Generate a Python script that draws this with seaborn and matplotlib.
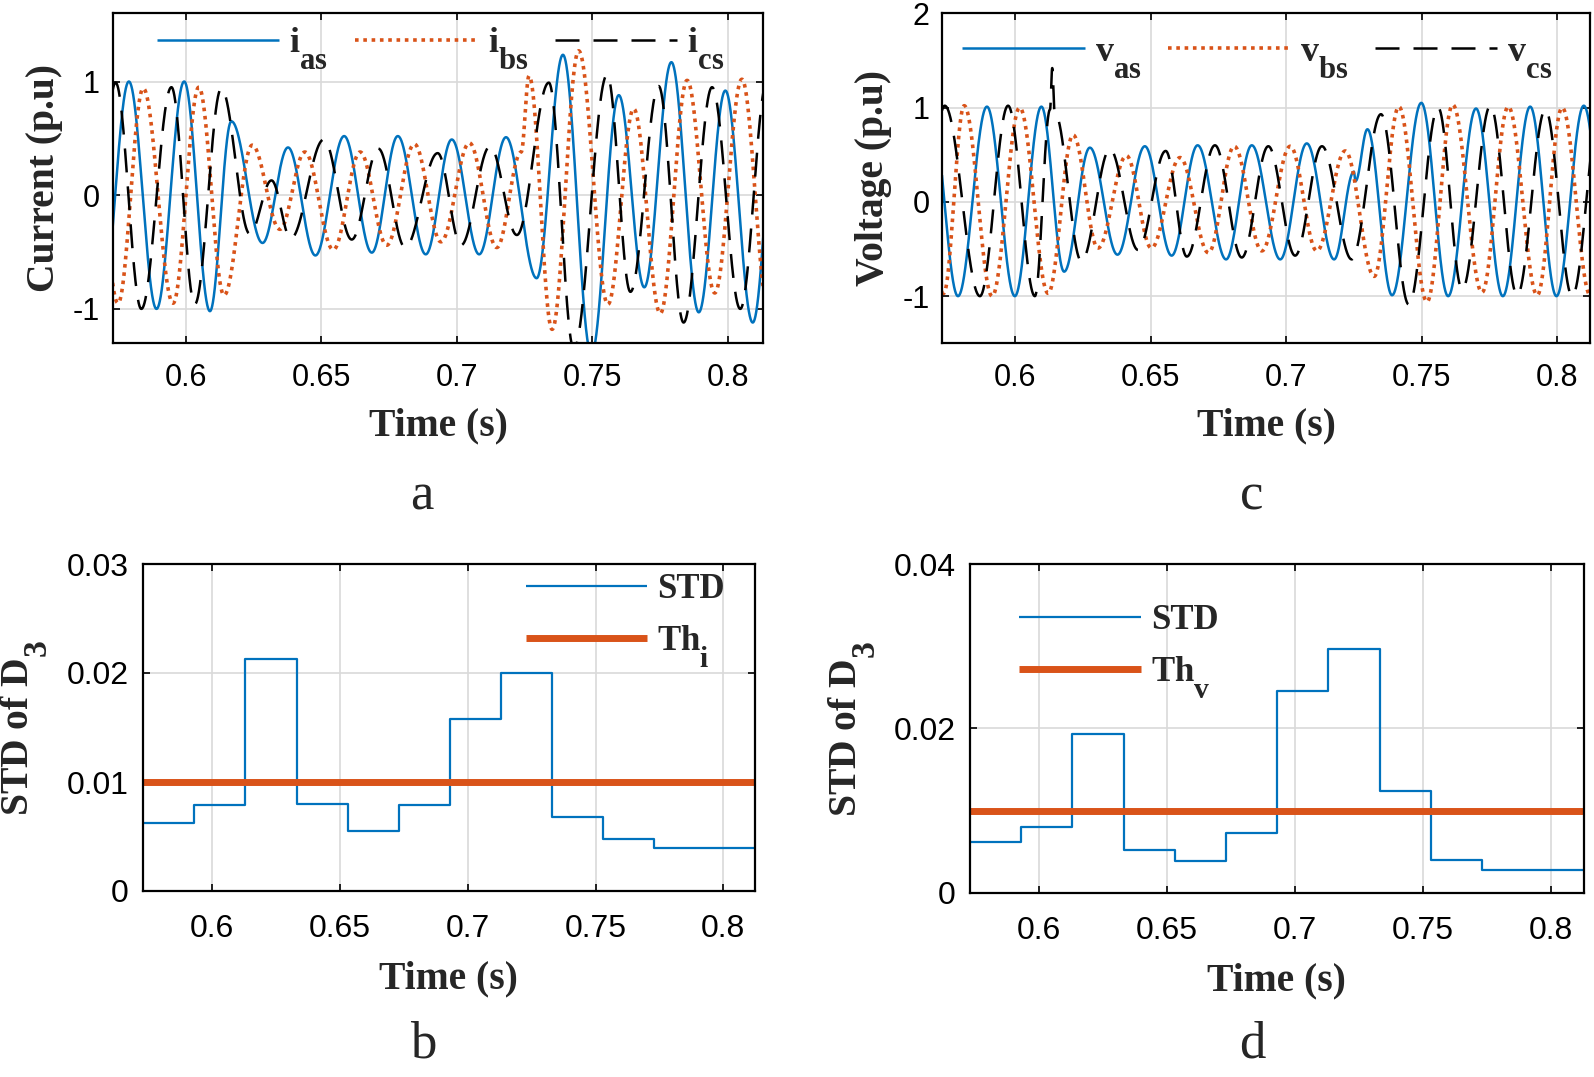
import numpy as np
import matplotlib
matplotlib.use("Agg")
import matplotlib.pyplot as plt
import seaborn as sns
from matplotlib.font_manager import FontProperties

# ---------------- data ----------------
# extrema (time, value) of the phase currents, panel a
ias_t = [0.5690, 0.5791, 0.5893, 0.5995, 0.6090, 0.6169, 0.6284, 0.6378, 0.6479, 0.6585,
         0.6687, 0.6783, 0.6886, 0.6982, 0.7083, 0.7182, 0.7295, 0.7392, 0.7497, 0.7598,
         0.7692, 0.7792, 0.7893, 0.7991, 0.8092, 0.8190]
ias_v = [-1.0, 1.0, -1.0, 1.0, -1.02, 0.65, -0.42, 0.42, -0.53, 0.52,
         -0.505, 0.52, -0.52, 0.49, -0.52, 0.51, -0.73, 1.235, -1.40, 0.88,
         -0.81, 1.17, -1.03, 0.92, -1.12, 1.10]
ibs_t = [0.5650, 0.5751, 0.5844, 0.5954, 0.6049, 0.6142, 0.6246, 0.6348, 0.6440, 0.6545,
         0.6644, 0.6742, 0.6844, 0.6942, 0.7047, 0.7148, 0.7238, 0.7267, 0.7352, 0.7450,
         0.7558, 0.7653, 0.7751, 0.7850, 0.7952, 0.8052, 0.8150]
ibs_v = [0.95, -0.95, 0.94, -0.95, 0.95, -0.88, 0.44, -0.30, 0.38, -0.48,
         0.38, -0.44, 0.45, -0.41, 0.46, -0.46, 0.38, 1.05, -1.18, 1.27,
         -0.96, 0.76, -1.04, 1.01, -0.86, 1.02, -1.0]
ics_t = [0.5650, 0.5742, 0.5837, 0.5948, 0.6034, 0.6132, 0.6237, 0.6317, 0.6388, 0.6510,
         0.6613, 0.6711, 0.6810, 0.6930, 0.7016, 0.7123, 0.7222, 0.7340, 0.7432, 0.7555,
         0.7641, 0.7745, 0.7837, 0.7942, 0.8046, 0.8145]
ics_v = [-1.0, 0.99, -1.0, 0.95, -0.96, 0.94, -0.34, 0.13, -0.38, 0.49,
         -0.39, 0.41, -0.46, 0.37, -0.44, 0.43, -0.35, 0.99, -1.35, 1.06,
         -0.85, 0.96, -1.12, 0.95, -1.0, 1.0]

# extrema of the phase voltages, panel c
vas_t = [0.5688, 0.5788, 0.5895, 0.5998, 0.6096, 0.6180, 0.6275, 0.6377, 0.6478, 0.6577,
         0.6673, 0.6778, 0.6873, 0.6978, 0.7076, 0.7177, 0.7250, 0.7256, 0.7300, 0.7391,
         0.7499, 0.7598, 0.7701, 0.7800, 0.7901, 0.7998, 0.8099, 0.8200]
vas_v = [1.0, -1.0, 1.01, -1.0, 1.01, -0.74, 0.575, -0.56, 0.59, -0.57,
         0.60, -0.61, 0.60, -0.61, 0.62, -0.61, 0.32, 0.22, 0.77, -0.99,
         1.05, -1.0, 0.99, -1.0, 1.01, -1.0, 1.02, -1.0]
vbs_t = [0.5635, 0.5735, 0.5811, 0.5914, 0.6016, 0.6121, 0.6213, 0.6305, 0.6410, 0.6502,
         0.6608, 0.6713, 0.6808, 0.6910, 0.7015, 0.7113, 0.7218, 0.7325, 0.7416, 0.7520,
         0.7615, 0.7723, 0.7820, 0.7927, 0.8019, 0.8123, 0.8220]
vbs_v = [1.0, -0.97, 1.02, -1.0, 1.0, -0.97, 0.71, -0.49, 0.49, -0.49,
         0.47, -0.54, 0.59, -0.52, 0.59, -0.52, 0.54, -0.79, 1.01, -1.06,
         1.03, -0.96, 1.01, -0.99, 1.0, -0.99, 1.0]
vcs_t = [0.5640, 0.5739, 0.5869, 0.5973, 0.6072, 0.6128, 0.6136, 0.6145, 0.6244, 0.6349,
         0.6453, 0.6555, 0.6633, 0.6737, 0.6836, 0.6934, 0.7033, 0.7132, 0.7242, 0.7350,
         0.7453, 0.7561, 0.7650, 0.7754, 0.7853, 0.7957, 0.8056, 0.8160]
vcs_v = [-1.0, 1.02, -1.0, 1.02, -1.0, 0.98, 1.42, 0.95, -0.63, 0.56,
         -0.51, 0.54, -0.58, 0.60, -0.59, 0.59, -0.57, 0.59, -0.61, 0.93,
         -1.09, 1.0, -0.93, 1.02, -0.99, 0.98, -1.0, 1.0]

# STD of D3 per window (panels b, d)
std_edges = [0.573, 0.593, 0.613, 0.633, 0.653, 0.673, 0.693, 0.713, 0.733, 0.753, 0.773, 0.8128]
std_i = [0.0062, 0.0079, 0.0213, 0.0080, 0.0055, 0.0079, 0.0158, 0.0200, 0.0068, 0.0048, 0.0039]
std_v = [0.0062, 0.0080, 0.0193, 0.0052, 0.0039, 0.0073, 0.0246, 0.0297, 0.0124, 0.0040, 0.0028]
th_i = 0.01
th_v = 0.01

time_ticks = [0.6, 0.65, 0.7, 0.75, 0.8]
time_ticklabels = ["0.6", "0.65", "0.7", "0.75", "0.8"]
ia_ticks = [-1, 0, 1]
ia_ticklabels = ["-1", "0", "1"]
vc_ticks = [-1, 0, 1, 2]
vc_ticklabels = ["-1", "0", "1", "2"]
sb_ticks = [0, 0.01, 0.02, 0.03]
sb_ticklabels = ["0", "0.01", "0.02", "0.03"]
sd_ticks = [0, 0.02, 0.04]
sd_ticklabels = ["0", "0.02", "0.04"]

# ---------------- style ----------------
sns.set_theme(style="ticks")
plt.rcParams.update({
    "font.family": ["Liberation Sans", "DejaVu Sans"],
    "mathtext.fontset": "custom",
    "mathtext.rm": "Liberation Serif:bold",
    "mathtext.bf": "Liberation Serif:bold",
    "mathtext.it": "Liberation Serif:bold",
    "axes.linewidth": 1.5,
    "lines.solid_capstyle": "butt",
})

# larger, lower subscripts (MATLAB-like)
try:
    import matplotlib._mathtext as _mt
    _mt.SHRINK_FACTOR = 0.85
    _mt.FontConstantsBase.sub1 = 1.0
    _mt.FontConstantsBase.sub2 = 1.0
except Exception:
    pass

BLUE = "#0072BD"
ORANGE = "#D95319"
BLACK = "#000000"
GRID = "#d9d9d9"
SERIF_B = dict(family="Liberation Serif", weight="bold")


def wave(t_ext, v_ext, n=8000):
    """Smooth half-cosine path through the read extrema."""
    t_ext = np.asarray(t_ext, float)
    v_ext = np.asarray(v_ext, float)
    t = np.linspace(t_ext[0], t_ext[-1], n)
    idx = np.clip(np.searchsorted(t_ext, t, side="right") - 1, 0, len(t_ext) - 2)
    t0, t1 = t_ext[idx], t_ext[idx + 1]
    v0, v1 = v_ext[idx], v_ext[idx + 1]
    u = (t - t0) / (t1 - t0)
    return t, v0 + (v1 - v0) * (1 - np.cos(np.pi * u)) / 2


def style_axes(ax, xlim, ylim, yt, ytl, fs, xpad, ypad):
    ax.set_xlim(*xlim)
    ax.set_ylim(*ylim)
    ax.set_xticks(time_ticks)
    ax.set_xticklabels(time_ticklabels)
    ax.set_yticks(yt)
    ax.set_yticklabels(ytl)
    ax.grid(True, color=GRID, lw=1.2)
    ax.set_axisbelow(True)
    for s in ax.spines.values():
        s.set_visible(True)
        s.set_color("black")
        s.set_linewidth(1.6)
    ax.tick_params(axis="both", direction="in", length=5, width=1.2, top=True, right=True,
                   labelsize=fs, colors="black")
    ax.tick_params(axis="x", pad=xpad)
    ax.tick_params(axis="y", pad=ypad)


fig = plt.figure(figsize=(15.94, 10.77), dpi=100)
W, H = 1594.0, 1077.0


def add_ax(l, r, t, b):
    return fig.add_axes([l / W, 1 - b / H, (r - l) / W, (b - t) / H])


ax_a = add_ax(112.6, 763.3, 13.3, 343.0)
ax_c = add_ax(942.0, 1590.3, 13.3, 343.3)
ax_b = add_ax(142.7, 754.8, 564.0, 891.0)
ax_d = add_ax(969.7, 1584.0, 564.0, 892.7)

dot_ls = (0, (1.0, 1.3))
dash_ls = (0, (9.6, 5.6))

# ---- panel a: currents ----
for (tt, vv, col, ls, lw, lab) in [
    (ias_t, ias_v, BLUE, "-", 1.8, r"$\mathbf{i}_{\mathbf{as}}$"),
    (ibs_t, ibs_v, ORANGE, dot_ls, 2.6, r"$\mathbf{i}_{\mathbf{bs}}$"),
    (ics_t, ics_v, BLACK, dash_ls, 1.8, r"$\mathbf{i}_{\mathbf{cs}}$"),
]:
    x, y = wave(tt, vv)
    sns.lineplot(x=x, y=y, ax=ax_a, color=col, linestyle=ls, lw=lw, label=lab,
                 estimator=None, sort=False)

# ---- panel c: voltages ----
for (tt, vv, col, ls, lw, lab) in [
    (vas_t, vas_v, BLUE, "-", 1.8, r"$\mathbf{v}_{\mathbf{as}}$"),
    (vbs_t, vbs_v, ORANGE, dot_ls, 2.6, r"$\mathbf{v}_{\mathbf{bs}}$"),
    (vcs_t, vcs_v, BLACK, dash_ls, 1.8, r"$\mathbf{v}_{\mathbf{cs}}$"),
]:
    x, y = wave(tt, vv)
    sns.lineplot(x=x, y=y, ax=ax_c, color=col, linestyle=ls, lw=lw, label=lab,
                 estimator=None, sort=False)

# ---- panels b, d: STD steps and thresholds ----
for ax, vals, th, thlab, xr in [
    (ax_b, std_i, th_i, r"$\mathbf{Th}_{\mathbf{i}}$", (0.5728, 0.8123)),
    (ax_d, std_v, th_v, r"$\mathbf{Th}_{\mathbf{v}}$", (0.5729, 0.8128)),
]:
    sns.lineplot(x=std_edges, y=list(vals) + [vals[-1]], ax=ax, color=BLUE, lw=1.6,
                 drawstyle="steps-post", label="STD", estimator=None, sort=False)
    sns.lineplot(x=[xr[0], xr[1]], y=[th, th], ax=ax, color=ORANGE, lw=5.0,
                 label=thlab, estimator=None, sort=False)

style_axes(ax_a, (0.5731, 0.8131), (-1.3, 1.6), ia_ticks, ia_ticklabels, 22, 14.5, 9)
style_axes(ax_c, (0.5729, 0.8123), (-1.5, 2.0), vc_ticks, vc_ticklabels, 22, 14.5, 9)
style_axes(ax_b, (0.5728, 0.8123), (0, 0.03), sb_ticks, sb_ticklabels, 23, 16.5, 10)
style_axes(ax_d, (0.5729, 0.8128), (0, 0.04), sd_ticks, sd_ticklabels, 23, 16.5, 10)

# ---- labels ----
LFS = 28.5
for ax, xl_y, yl, yl_x in [
    (ax_a, -0.194, "Current (p.u)", -0.104),
    (ax_c, -0.194, "Voltage (p.u)", -0.105),
    (ax_b, -0.211, r"STD of D$_\mathbf{3}$", -0.194),
    (ax_d, -0.211, r"STD of D$_\mathbf{3}$", -0.193),
]:
    ax.set_xlabel("Time (s)", fontsize=LFS, va="top", **SERIF_B)
    ax.xaxis.set_label_coords(0.5, xl_y)
    ax.set_ylabel(yl, fontsize=LFS, va="center", ha="center", **SERIF_B)
    ax.yaxis.set_label_coords(yl_x, 0.5)

# ---- legends ----
lp = FontProperties(family="Liberation Serif", weight="bold", size=26)
ax_a.legend(loc="center left", bbox_to_anchor=(0.068, 0.894), ncol=3, frameon=False,
            prop=lp, handlelength=3.39, handletextpad=0.28, columnspacing=0.74,
            borderpad=0, borderaxespad=0)
ax_c.legend(loc="center left", bbox_to_anchor=(0.031, 0.866), ncol=3, frameon=False,
            prop=lp, handlelength=3.39, handletextpad=0.28, columnspacing=0.72,
            borderpad=0, borderaxespad=0)
lp2 = FontProperties(family="Liberation Serif", weight="bold", size=25)
ax_b.legend(loc="center left", bbox_to_anchor=(0.626, 0.826), ncol=1, frameon=False,
            prop=lp2, handlelength=3.49, handletextpad=0.29, labelspacing=0.5,
            borderpad=0, borderaxespad=0)
ax_d.legend(loc="center left", bbox_to_anchor=(0.081, 0.732), ncol=1, frameon=False,
            prop=lp2, handlelength=3.49, handletextpad=0.29, labelspacing=0.5,
            borderpad=0, borderaxespad=0)

# ---- panel letters ----
for lab, x, y in [("a", 422, 509), ("c", 1252, 509), ("b", 423, 1058), ("d", 1252, 1058)]:
    fig.text(x / W, 1 - y / H, lab, fontsize=38, family="Liberation Serif",
             ha="center", va="baseline")

fig.savefig("out.png", dpi=100)
